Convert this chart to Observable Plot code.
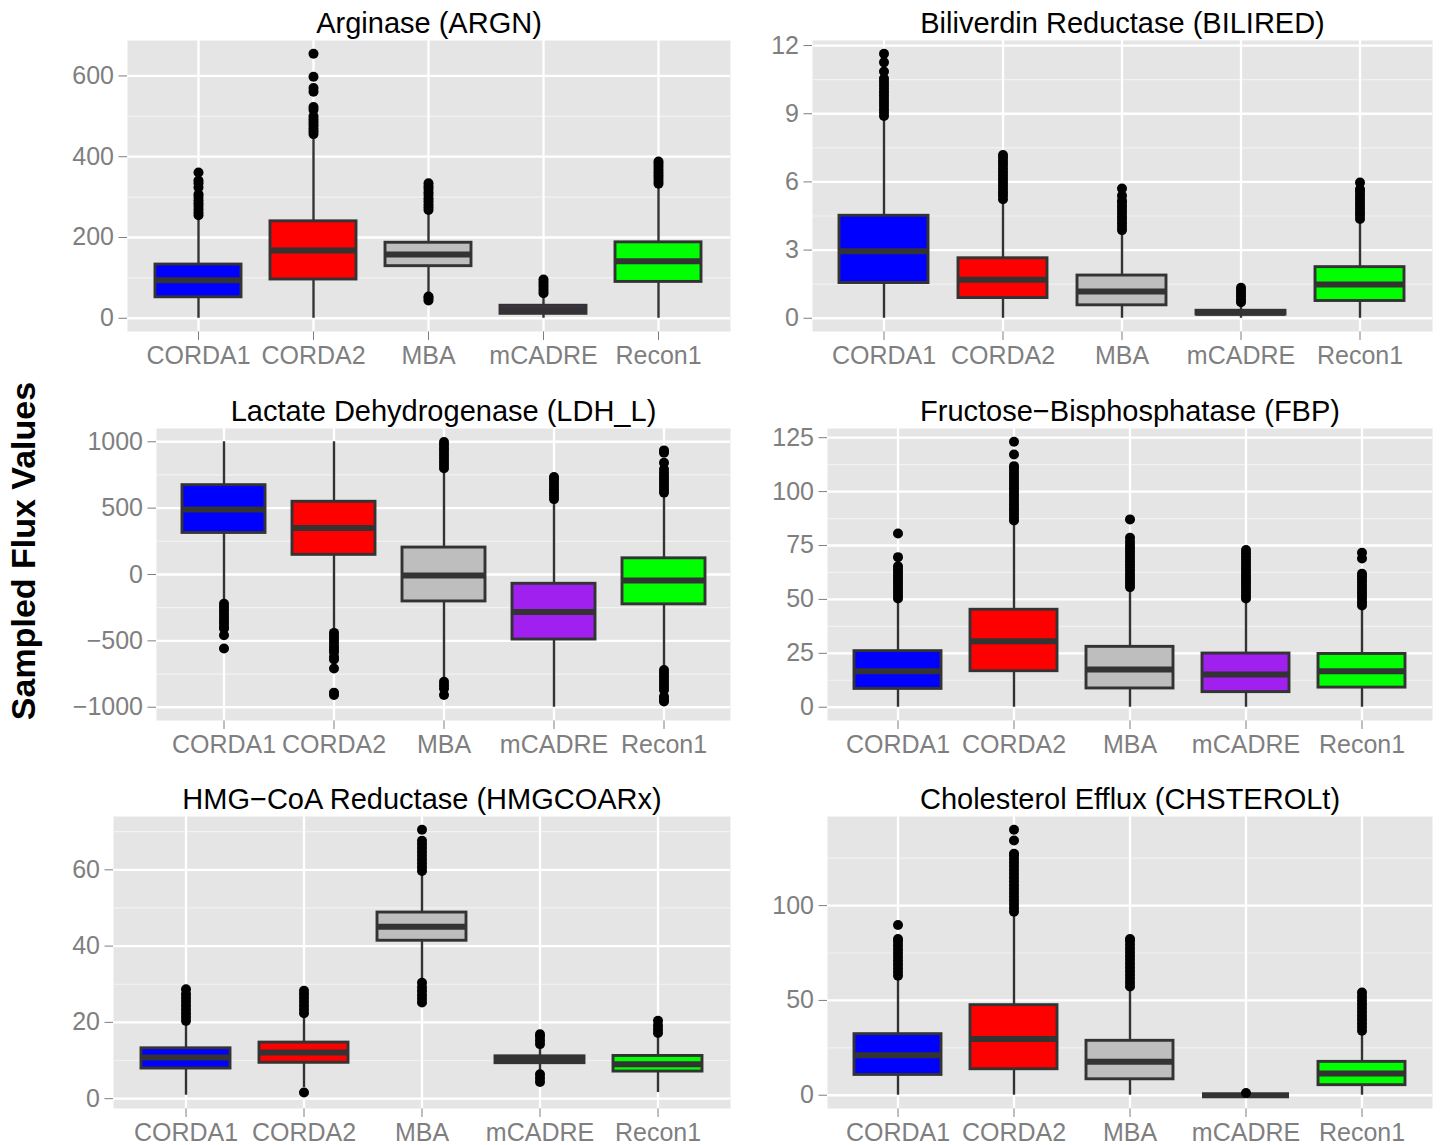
<!DOCTYPE html>
<html><head><meta charset="utf-8">
<script src="https://cdn.jsdelivr.net/npm/d3@7"></script>
<script src="https://cdn.jsdelivr.net/npm/@observablehq/plot@0.6"></script>
<style>
body{margin:0;background:#fff;}
#root{position:relative;width:1440px;height:1145px;overflow:hidden;background:#fff;font-family:"Liberation Sans",Arial,Helvetica,sans-serif;}
#root > svg, #root > figure{position:absolute;margin:0;}
</style></head><body><div id="root"></div>
<script>
// ---------- data ----------
const categories = ["CORDA1","CORDA2","MBA","mCADRE","Recon1"];
const boxFills = ["#0000FF","#FF0000","#BEBEBE","#A020F0","#00FF00"];
const titles = ["Arginase (ARGN)","Biliverdin Reductase (BILIRED)","Lactate Dehydrogenase (LDH_L)","Fructose\u2212Bisphosphatase (FBP)","HMG\u2212CoA Reductase (HMGCOARx)","Cholesterol Efflux (CHSTEROLt)"];
const yLabel = "Sampled Flux Values";

// Arginase (ARGN)
const argnLow = [0, 0, 61, 0, 0];
const argnQ1  = [52, 96, 129, 11, 90];
const argnMed = [94, 168, 158, 21, 141];
const argnQ3  = [133, 240, 187, 31, 188];
const argnHigh= [252, 452, 265, 57, 328];
const argnOut = [
  [255,262,270,278,285,292,300,307,324,334,341,361],
  [456,463,470,478,485,492,500,516,523,561,570,598,655],
  [44,50,54,268,275,282,290,297,305,312,320,327,334],
  [62,68,75,82,89,96],
  [333,340,347,354,361,368,375,382,388]
];
const argnTicks = [0,200,400,600];
const argnMinor = [100,300,500];

// Biliverdin Reductase (BILIRED)
const biliLow = [0, 0, 0, 0, 0];
const biliQ1  = [1.55, 0.89, 0.57, 0.16, 0.76];
const biliMed = [2.95, 1.69, 1.18, 0.24, 1.49];
const biliQ3  = [4.51, 2.64, 1.88, 0.33, 2.25];
const biliHigh= [8.82, 5.17, 3.85, 0.64, 4.29];
const biliOut = [
  [8.9,9.05,9.2,9.35,9.5,9.65,9.8,9.95,10.1,10.25,10.4,10.55,10.86,11.26,11.64],
  [5.24,5.4,5.55,5.7,5.85,6.0,6.15,6.3,6.45,6.6,6.75,6.9,7.05,7.18],
  [3.88,4.03,4.18,4.33,4.48,4.63,4.78,4.93,5.08,5.17,5.39,5.71],
  [0.71,0.84,0.97,1.1,1.22,1.34],
  [4.37,4.52,4.67,4.82,4.97,5.12,5.27,5.42,5.57,5.68,5.97]
];
const biliTicks = [0,3,6,9,12];
const biliMinor = [1.5,4.5,7.5,10.5];

// Lactate Dehydrogenase (LDH_L)
const ldhLow = [-208, -433, -795, -1000, -708];
const ldhQ1  = [313, 148, -203, -490, -225];
const ldhMed = [490, 350, -8, -283, -45];
const ldhQ3  = [673, 548, 203, -70, 122];
const ldhHigh= [1000, 1000, 793, 555, 605];
const ldhOut = [
  [-220,-245,-270,-295,-320,-345,-370,-395,-407,-458,-557],
  [-440,-465,-490,-515,-540,-565,-583,-620,-640,-708,-890,-907],
  [800,825,850,875,900,925,950,975,998,-808,-833,-858,-908],
  [568,593,618,643,668,693,718,735],
  [617,642,667,692,717,742,767,793,842,917,935,-720,-745,-770,-795,-820,-845,-870,-920,-940,-957]
];
const ldhTicks = [-1000,-500,0,500,1000];
const ldhMinor = [-750,-250,250,750];

// Fructose-Bisphosphatase (FBP)
const fbpLow = [0, 0, 0, 0, 0];
const fbpQ1  = [8.5, 16.7, 8.7, 7.0, 9.1];
const fbpMed = [16.7, 30.6, 17.5, 15.2, 16.7];
const fbpQ3  = [26.0, 45.2, 28.0, 24.9, 24.7];
const fbpHigh= [50, 86.3, 55.4, 50, 46.9];
const fbpOut = [
  [50.4,51.9,53.4,54.9,56.4,57.9,59.4,60.9,62.4,63.9,65.4,69.6,80.6],
  [86.6,88.1,89.6,91.1,92.6,94.1,95.6,97.1,98.6,100.1,101.6,103.1,104.6,106.1,107.6,109.1,110.6,111.8,117.2,123.1],
  [55.7,57.2,58.7,60.2,61.7,63.2,64.7,66.2,67.7,69.2,70.7,72.2,73.7,75.2,76.7,78.6,87.1],
  [50.4,51.9,53.4,54.9,56.4,57.9,59.4,60.9,62.4,63.9,65.4,66.9,68.4,69.9,71.4,72.9],
  [47.2,48.7,50.2,51.7,53.2,54.7,56.2,57.7,59.2,60.7,61.9,69.0,71.6]
];
const fbpTicks = [0,25,50,75,100,125];
const fbpMinor = [12.5,37.5,62.5,87.5,112.5];

// HMG-CoA Reductase (HMGCOARx)
const hmgLow = [0.9, 2.9, 30.9, 6.8, 1.6];
const hmgQ1  = [7.9, 9.4, 41.4, 9.3, 7.1];
const hmgMed = [10.8, 12.1, 45.1, 10.2, 9.0];
const hmgQ3  = [13.2, 14.7, 48.8, 11.1, 11.2];
const hmgHigh= [19.9, 22.1, 59.3, 14.7, 16.9];
const hmgOut = [
  [20.4,21.4,22.4,23.4,24.4,25.4,26.4,27.4,28.7],
  [1.6,22.4,23.4,24.4,25.4,26.4,27.4,28.3],
  [25.2,26.2,27.2,28.2,29.2,30.4,59.7,60.7,61.7,62.7,63.7,64.7,65.7,66.7,67.6,70.5],
  [4.4,5.4,6.4,14.3,15.3,16.3,16.9],
  [17.2,18.2,19.2,20.4]
];
const hmgTicks = [0,20,40,60];
const hmgMinor = [10,30,50,70];

// Cholesterol Efflux (CHSTEROLt)
const cholLow = [0, 0, 0, 0, 0];
const cholQ1  = [10.7, 13.7, 8.4, 0, 5.3];
const cholMed = [21.1, 29.6, 17.6, 0, 11.4];
const cholQ3  = [32.2, 47.5, 28.7, 0, 17.6];
const cholHigh= [62.1, 96.5, 56.8, 0, 33.1];
const cholOut = [
  [63,65,67,69,71,73,75,77,79,81,82.4,89.8],
  [96.8,98.8,100.8,102.8,104.8,106.8,108.8,110.8,112.8,114.8,116.8,118.8,120.8,122.8,124.8,126.8,127.3,134.3,140],
  [57.4,59.4,61.4,63.4,65.4,67.4,69.4,71.4,73.4,75.4,77.4,79.4,81.4,82.4],
  [1.2],
  [34,36,38,40,42,44,46,48,50,52,54.2]
];
const cholTicks = [0,50,100];
const cholMinor = [25,75,125];

// ---------- layout ----------
const panels = [
  {title: titles[0], low: argnLow, q1: argnQ1, med: argnMed, q3: argnQ3, high: argnHigh, out: argnOut, ticks: argnTicks, minor: argnMinor, pl:127, pr:730, pt:40, pb:331},
  {title: titles[1], low: biliLow, q1: biliQ1, med: biliMed, q3: biliQ3, high: biliHigh, out: biliOut, ticks: biliTicks, minor: biliMinor, pl:812, pr:1432, pt:40, pb:331},
  {title: titles[2], low: ldhLow, q1: ldhQ1, med: ldhMed, q3: ldhQ3, high: ldhHigh, out: ldhOut, ticks: ldhTicks, minor: ldhMinor, pl:156, pr:730, pt:428, pb:720},
  {title: titles[3], low: fbpLow, q1: fbpQ1, med: fbpMed, q3: fbpQ3, high: fbpHigh, out: fbpOut, ticks: fbpTicks, minor: fbpMinor, pl:827, pr:1432, pt:428, pb:720},
  {title: titles[4], low: hmgLow, q1: hmgQ1, med: hmgMed, q3: hmgQ3, high: hmgHigh, out: hmgOut, ticks: hmgTicks, minor: hmgMinor, pl:113, pr:730, pt:816, pb:1108},
  {title: titles[5], low: cholLow, q1: cholQ1, med: cholMed, q3: cholQ3, high: cholHigh, out: cholOut, ticks: cholTicks, minor: cholMinor, pl:827, pr:1432, pt:816, pb:1108}
];

const ML = 100, MR = 6, MT = 45, MB = 50;
const dark = "#333333";
const grey = "#7F7F7F";
const fmt = d => d < 0 ? "\u2212" + Math.abs(d) : String(d);
const root = document.getElementById("root");

for (const p of panels) {
  const rows = categories.map((c, i) => ({cat: c, fill: boxFills[i], low: p.low[i], q1: p.q1[i], med: p.med[i], q3: p.q3[i], high: p.high[i]}));
  const outs = categories.flatMap((c, i) => p.out[i].map(v => ({cat: c, v})));
  const all = [...p.low, ...p.high, ...outs.map(d => d.v)];
  const mn = d3.min(all), mx = d3.max(all);
  const pad = (mx - mn) * 0.05;
  const W = p.pr - p.pl + ML + MR;
  const H = p.pb - p.pt + MT + MB;
  const svg = Plot.plot({
    width: W, height: H,
    marginLeft: ML, marginRight: MR, marginTop: MT, marginBottom: MB,
    style: {background: "transparent", overflow: "visible", color: grey, fontSize: "25px", fontFamily: '"Liberation Sans", Arial, Helvetica, sans-serif'},
    x: {domain: categories, paddingInner: 0.25, paddingOuter: 0.225, align: 0.5, axis: "bottom", tickSize: 9, tickPadding: 6, label: null},
    y: {domain: [mn - pad, mx + pad], axis: "left", ticks: p.ticks, tickSize: 8.5, tickPadding: 5, tickFormat: fmt, label: null},
    color: {type: "identity"},
    marks: [
      Plot.frame({fill: "#E5E5E5", stroke: "none"}),
      Plot.ruleY(p.minor, {stroke: "#F2F2F2", strokeWidth: 1.2}),
      Plot.ruleY(p.ticks, {stroke: "#FFFFFF", strokeWidth: 2.3}),
      Plot.ruleX(categories, {x: d => d, stroke: "#FFFFFF", strokeWidth: 2.3}),
      Plot.ruleX(rows, {x: "cat", y1: "low", y2: "q1", stroke: dark, strokeWidth: 2.4}),
      Plot.ruleX(rows, {x: "cat", y1: "q3", y2: "high", stroke: dark, strokeWidth: 2.4}),
      Plot.barY(rows, {x: "cat", y1: "q1", y2: "q3", fill: "fill", stroke: dark, strokeWidth: 2.9}),
      Plot.tickY(rows, {x: "cat", y: "med", stroke: dark, strokeWidth: 6}),
      Plot.dot(outs, {x: "cat", y: "v", r: 5, fill: "#000000", stroke: "none"}),
      Plot.text([p.title], {text: d => d, frameAnchor: "top", lineAnchor: "bottom", dy: -8, fontSize: 29, fill: "#000000"})
    ]
  });
  svg.style.left = (p.pl - ML) + "px";
  svg.style.top = (p.pt - MT) + "px";
  root.appendChild(svg);
}

// y label
const ns = "http://www.w3.org/2000/svg";
const lab = document.createElementNS(ns, "svg");
lab.setAttribute("width", 60); lab.setAttribute("height", 1145);
lab.style.left = "0px"; lab.style.top = "0px";
const t = document.createElementNS(ns, "text");
t.setAttribute("transform", "translate(35,551) rotate(-90)");
t.setAttribute("text-anchor", "middle");
t.setAttribute("font-weight", "bold");
t.setAttribute("font-size", "34");
t.setAttribute("font-family", '"Liberation Sans", Arial, Helvetica, sans-serif');
t.setAttribute("fill", "#000000");
t.textContent = yLabel;
lab.appendChild(t);
root.appendChild(lab);
</script></body></html>
